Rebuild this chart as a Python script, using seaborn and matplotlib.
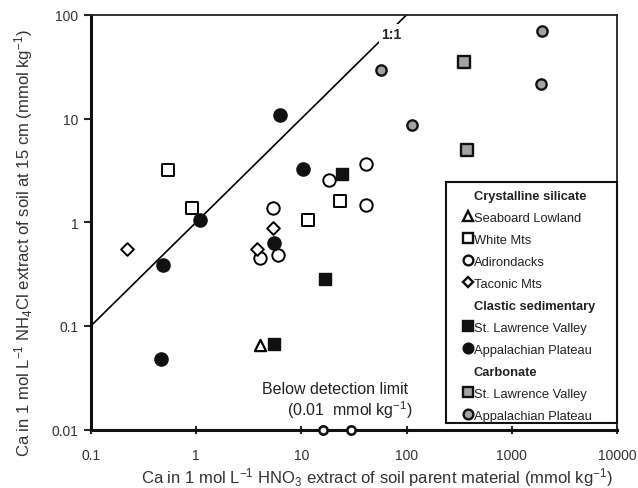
import matplotlib
matplotlib.use("Agg")
import matplotlib.pyplot as plt
from matplotlib.lines import Line2D
from matplotlib.patches import Rectangle
from matplotlib.ticker import FixedLocator, NullLocator, FixedFormatter
import seaborn as sns
import pandas as pd

# ---------------- data ----------------
seaboard_x = [4.07]
seaboard_y = [0.065]
white_x = [0.545, 0.91, 11.6, 23.2]
white_y = [3.16, 1.38, 1.06, 1.6]
adirondacks_x = [18.2, 40.7, 40.7, 5.37, 4.0, 6.0]
adirondacks_y = [2.58, 3.61, 1.46, 1.36, 0.453, 0.487]
taconic_x = [0.219, 5.33, 3.78]
taconic_y = [0.553, 0.88, 0.553]
clastic_slv_x = [24.4, 16.7, 5.45]
clastic_slv_y = [2.94, 0.284, 0.067]
clastic_ap_x = [1.09, 0.482, 0.461, 10.4, 5.45, 6.31]
clastic_ap_y = [1.05, 0.39, 0.048, 3.23, 0.63, 10.7]
carb_slv_x = [351, 373]
carb_slv_y = [34.7, 4.93]
carb_ap_x = [56.5, 113, 1930, 1890]
carb_ap_y = [29.5, 8.6, 70, 21.7]
below_x = [16.1, 29.3]
below_y = [0.01, 0.01]
one_to_one = [0.1, 100]

x_ticks = [0.1, 1, 10, 100, 1000, 10000]
x_tick_labels = ["0.1", "1", "10", "100", "1000", "10000"]
y_ticks = [0.01, 0.1, 1, 10, 100]
y_tick_labels = ["0.01", "0.1", "1", "10", "100"]

legend_rows = [
    ("header", "Crystalline silicate"),
    ("seaboard", "Seaboard Lowland"),
    ("white", "White Mts"),
    ("adirondacks", "Adirondacks"),
    ("taconic", "Taconic Mts"),
    ("header", "Clastic sedimentary"),
    ("clastic_slv", "St. Lawrence Valley"),
    ("clastic_ap", "Appalachian Plateau"),
    ("header", "Carbonate"),
    ("carb_slv", "St. Lawrence Valley"),
    ("carb_ap", "Appalachian Plateau"),
]

# ---------------- style ----------------
sns.set_style("white")
plt.rcParams["font.family"] = ["Liberation Sans", "DejaVu Sans"]
plt.rcParams["mathtext.fontset"] = "custom"
plt.rcParams["mathtext.rm"] = "Liberation Sans"
plt.rcParams["mathtext.it"] = "Liberation Sans:italic"
plt.rcParams["mathtext.bf"] = "Liberation Sans:bold"

GREY = "#a3a3a3"
styles = {
    "seaboard": dict(marker="^", fc="white", ec="black", lw=1.6, s=65),
    "white": dict(marker="s", fc="white", ec="black", lw=1.4, s=65),
    "adirondacks": dict(marker="o", fc="white", ec="black", lw=1.4, s=80),
    "taconic": dict(marker="D", fc="white", ec="black", lw=1.4, s=42),
    "clastic_slv": dict(marker="s", fc="#111111", ec="#111111", lw=1.0, s=75),
    "clastic_ap": dict(marker="o", fc="#111111", ec="#111111", lw=1.0, s=90),
    "carb_slv": dict(marker="s", fc=GREY, ec="#111111", lw=1.7, s=68),
    "carb_ap": dict(marker="o", fc=GREY, ec="#111111", lw=1.7, s=55),
    "below": dict(marker="o", fc="white", ec="#111111", lw=1.9, s=36),
}
series = {
    "seaboard": (seaboard_x, seaboard_y),
    "white": (white_x, white_y),
    "adirondacks": (adirondacks_x, adirondacks_y),
    "taconic": (taconic_x, taconic_y),
    "clastic_slv": (clastic_slv_x, clastic_slv_y),
    "clastic_ap": (clastic_ap_x, clastic_ap_y),
    "carb_slv": (carb_slv_x, carb_slv_y),
    "carb_ap": (carb_ap_x, carb_ap_y),
    "below": (below_x, below_y),
}

fig = plt.figure(figsize=(6.38, 4.89), dpi=100)
ax = fig.add_axes([0.1426, 0.1196, 0.8245, 0.848])
ax.set_xscale("log")
ax.set_yscale("log")
ax.set_xlim(0.1, 10000)
ax.set_ylim(0.01, 100)

# 1:1 line
line_df = pd.DataFrame({"x": one_to_one, "y": one_to_one})
sns.lineplot(data=line_df, x="x", y="y", ax=ax, color="black", lw=1.2, zorder=2)
ax.text(72, 66, "1:1", fontsize=10, fontweight="bold", ha="center", va="center",
        color="#222222", zorder=3,
        bbox=dict(facecolor="white", edgecolor="none", pad=1.5))

for key, (xs, ys) in series.items():
    st = styles[key]
    df = pd.DataFrame({"x": xs, "y": ys})
    sns.scatterplot(data=df, x="x", y="y", ax=ax, marker=st["marker"],
                    s=st["s"], color=st["fc"], edgecolor=st["ec"],
                    linewidth=st["lw"], zorder=4, legend=False)
for coll in ax.collections:
    coll.set_clip_on(False)

ax.text(21.1, 0.0247, "Below detection limit", fontsize=11.5, ha="center",
        va="center", color="#222222")
ax.text(28.6, 0.0158, "(0.01  mmol kg$^{-1}$)", fontsize=11.5, ha="center",
        va="center", color="#222222")

# axes styling
ax.xaxis.set_major_locator(FixedLocator(x_ticks))
ax.xaxis.set_major_formatter(FixedFormatter(x_tick_labels))
ax.yaxis.set_major_locator(FixedLocator(y_ticks))
ax.yaxis.set_major_formatter(FixedFormatter(y_tick_labels))
ax.xaxis.set_minor_locator(NullLocator())
ax.yaxis.set_minor_locator(NullLocator())
ax.tick_params(axis="x", direction="inout", length=6, width=1.5, pad=10,
               labelsize=10, labelcolor="#333333", bottom=True)
ax.tick_params(axis="y", direction="out", length=5, width=1.5, pad=4,
               labelsize=10, labelcolor="#333333", left=True)
for side in ["left", "bottom"]:
    ax.spines[side].set_linewidth(2.2)
    ax.spines[side].set_color("#111111")
for side in ["top", "right"]:
    ax.spines[side].set_linewidth(1.3)
    ax.spines[side].set_color("#222222")

ax.set_xlabel("Ca in 1 mol L$^{-1}$ HNO$_3$ extract of soil parent material (mmol kg$^{-1}$)",
              fontsize=12, color="#333333")
ax.set_ylabel("Ca in 1 mol L$^{-1}$ NH$_4$Cl extract of soil at 15 cm (mmol kg$^{-1}$)",
              fontsize=12, color="#333333")
ax.xaxis.set_label_coords(0.544, -0.086)
ax.yaxis.set_label_coords(-0.106, 0.452)

# legend frame (drawn as a box in axes coordinates)
frame = Rectangle((0.675, 0.0157), 0.325, 0.581, transform=ax.transAxes,
                  facecolor="white", edgecolor="#111111", linewidth=1.5,
                  zorder=4.5, clip_on=False)
ax.add_patch(frame)

handles, labels = [], []
for key, lab in legend_rows:
    if key == "header":
        handles.append(Line2D([], [], linestyle="none", marker=None))
    else:
        st = styles[key]
        ms = 7.0 if st["marker"] != "D" else 5.2
        handles.append(Line2D([], [], linestyle="none", marker=st["marker"],
                              markersize=ms, markerfacecolor=st["fc"],
                              markeredgecolor="#111111", markeredgewidth=1.7))
    labels.append(lab)
leg = ax.legend(handles, labels, loc="upper left", bbox_to_anchor=(0.7093, 0.578),
                fontsize=9.3, frameon=False, handlelength=0.6, handletextpad=0.15,
                labelspacing=0.77, borderpad=0.0, borderaxespad=0.0)
for (key, lab), txt in zip(legend_rows, leg.get_texts()):
    txt.set_color("#222222")
    if key == "header":
        txt.set_fontweight("bold")
leg.set_zorder(5)

fig.savefig("out.png", dpi=100)
